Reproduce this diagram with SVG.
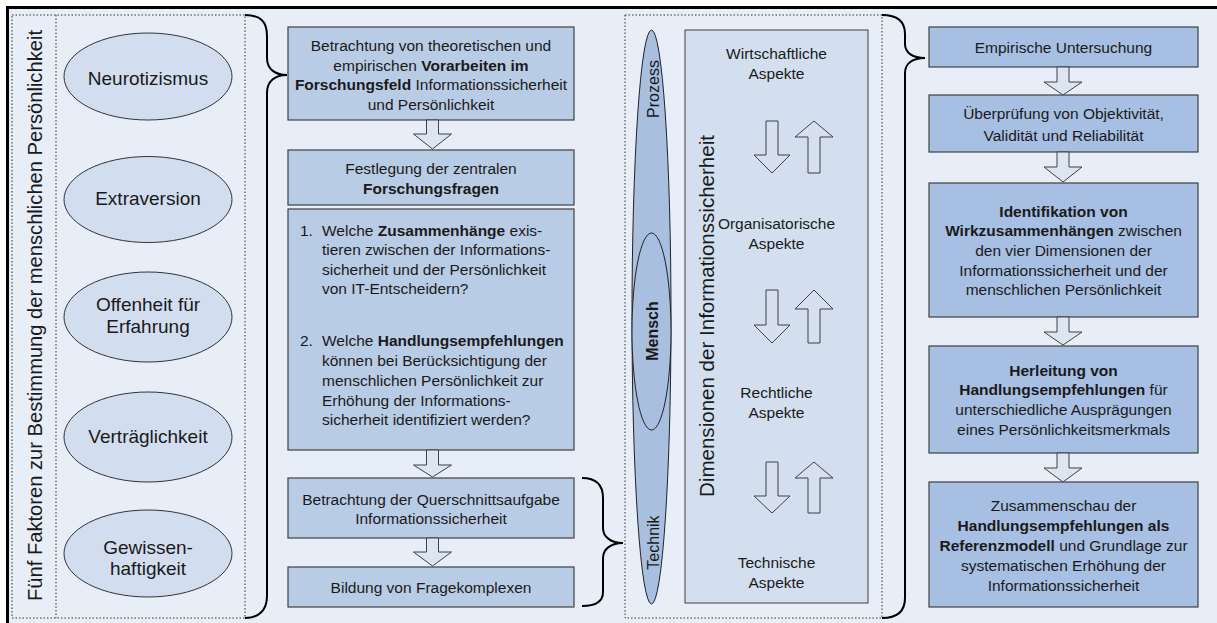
<svg xmlns="http://www.w3.org/2000/svg" width="1217" height="623" viewBox="0 0 1217 623">
<style>
text{font-family:"Liberation Sans",Arial,sans-serif;fill:#1a1a1a}
.bt{font-size:15.5px;text-anchor:middle}
.ls{font-size:15.5px}
.b{font-weight:bold}
.el{fill:#D2DDEF;stroke:#333;stroke-width:1}
.et{font-size:19px;text-anchor:middle}
.mb{fill:#B9CCE5;stroke:#404040;stroke-width:1.2}
.rb{fill:#A7BFE2;stroke:#404040;stroke-width:1.2}
.ar{fill:#DCE6F2;stroke:#404040;stroke-width:1}
.da{fill:#D6E0F0;stroke:#404040;stroke-width:1}
.dot{fill:none;stroke:#333;stroke-width:1;stroke-dasharray:1.5 2}
.br{fill:none;stroke:#000;stroke-width:2}
.at{font-size:15.5px;text-anchor:middle}
</style>
<rect x="7.5" y="7.5" width="1215" height="620" fill="#E7EEF8" stroke="#000" stroke-width="3"/>

<g id="left-panel">
<rect class="dot" x="12" y="15" width="233" height="603"/>
<line class="dot" x1="56" y1="15" x2="56" y2="618"/>
<text transform="translate(41.5,315.5) rotate(-90)" font-size="19.5" text-anchor="middle" textLength="571" lengthAdjust="spacingAndGlyphs">Fünf Faktoren zur Bestimmung der menschlichen Persönlichkeit</text>
</g>

<g id="neurotizismus">
<ellipse class="el" cx="148" cy="76.5" rx="84" ry="43.5"/>
<text class="et" x="148" y="84.5">Neurotizismus</text>
</g>
<g id="extraversion">
<ellipse class="el" cx="148" cy="199.5" rx="84" ry="43"/>
<text class="et" x="148" y="205">Extraversion</text>
</g>
<g id="offenheit">
<ellipse class="el" cx="148" cy="317" rx="84" ry="45"/>
<text class="et" x="148" y="311">Offenheit für</text>
<text class="et" x="148" y="333">Erfahrung</text>
</g>
<g id="vertraeglichkeit">
<ellipse class="el" cx="148" cy="437" rx="84" ry="45"/>
<text class="et" x="148" y="443">Verträglichkeit</text>
</g>
<g id="gewissenhaftigkeit">
<ellipse class="el" cx="148" cy="553.5" rx="84" ry="43.5"/>
<text class="et" x="148" y="554">Gewissen-</text>
<text class="et" x="148" y="575">haftigkeit</text>
</g>

<g id="braces">
<path class="br" d="M245,15 C261,15 267,22 267,36 L267,58 C267,69 275,75 287,75 C275,75 267,81 267,93 L267,596 C267,610 259,618 245,618"/>
<path class="br" d="M582,478 C597,478 603,485 603,498 L603,528 C603,537 611,543 623,543 C611,543 603,549 603,558 L603,592 C603,601 597,606 582,606"/>
<path class="br" d="M882,15 C898,15 905,22 905,34 L905,44 C905,53 913,58 925,58 C913,58 905,63 905,73 L905,598 C905,611 897,618 882,618"/>
</g>

<g id="m1">
<rect class="mb" x="288" y="27" width="286" height="93"/>
<text class="bt" x="431" y="51">Betrachtung von theoretischen und</text>
<text class="bt" x="431" y="70.5">empirischen <tspan class="b">Vorarbeiten im</tspan></text>
<text class="bt" x="431" y="90"><tspan class="b">Forschungsfeld</tspan> Informationssicherheit</text>
<text class="bt" x="431" y="109.5">und Persönlichkeit</text>
</g>
<g id="m2">
<rect class="mb" x="288" y="150" width="286" height="55"/>
<text class="bt" x="431" y="173.5">Festlegung der zentralen</text>
<text class="bt" x="431" y="193.5" font-weight="bold">Forschungsfragen</text>
</g>
<g id="m3">
<rect class="mb" x="288" y="209" width="286" height="241"/>
<text class="ls" x="300" y="235.5">1.</text>
<text class="ls" x="322" y="235.5">Welche <tspan class="b">Zusammenhänge</tspan> exis-</text>
<text class="ls" x="322" y="255">tieren zwischen der Informations-</text>
<text class="ls" x="322" y="274.5">sicherheit und der Persönlichkeit</text>
<text class="ls" x="322" y="294">von IT-Entscheidern?</text>
<text class="ls" x="300" y="345.5">2.</text>
<text class="ls" x="322" y="345.5">Welche <tspan class="b">Handlungsempfehlungen</tspan></text>
<text class="ls" x="322" y="365.5">können bei Berücksichtigung der</text>
<text class="ls" x="322" y="385.5">menschlichen Persönlichkeit zur</text>
<text class="ls" x="322" y="405.5">Erhöhung der Informations-</text>
<text class="ls" x="322" y="424.5">sicherheit identifiziert werden?</text>
</g>
<g id="m4">
<rect class="mb" x="288" y="478" width="286" height="60"/>
<text class="bt" x="431" y="504.5">Betrachtung der Querschnittsaufgabe</text>
<text class="bt" x="431" y="523.5">Informationssicherheit</text>
</g>
<g id="m5">
<rect class="mb" x="288" y="567" width="286" height="40"/>
<text class="bt" x="431" y="592.5">Bildung von Fragekomplexen</text>
</g>

<g id="middle-panel">
<rect class="dot" x="625" y="15" width="257" height="603"/>
</g>
<g id="pmt">
<ellipse cx="651.5" cy="317" rx="19.5" ry="287" fill="#A8BFE0" stroke="#222" stroke-width="1"/>
<ellipse cx="651.5" cy="331.5" rx="19.5" ry="98.5" fill="#A8BFE0" stroke="#222" stroke-width="1"/>
<text transform="translate(658.5,89) rotate(-90)" font-size="16" text-anchor="middle">Prozess</text>
<text transform="translate(658,331) rotate(-90)" font-size="16" font-weight="bold" text-anchor="middle">Mensch</text>
<text transform="translate(658.5,542.5) rotate(-90)" font-size="16" text-anchor="middle">Technik</text>
</g>
<g id="dimensionen">
<rect x="685" y="30" width="183" height="573" fill="#D3DFEF" stroke="#404040" stroke-width="1"/>
<text transform="translate(714,316) rotate(-90)" font-size="20" text-anchor="middle" textLength="362" lengthAdjust="spacingAndGlyphs">Dimensionen der Informationssicherheit</text>
<text class="at" x="776.5" y="58.5">Wirtschaftliche</text>
<text class="at" x="776.5" y="78.5">Aspekte</text>
<text class="at" x="776.5" y="228.5">Organisatorische</text>
<text class="at" x="776.5" y="248.5">Aspekte</text>
<text class="at" x="776.5" y="397.5">Rechtliche</text>
<text class="at" x="776.5" y="417.5">Aspekte</text>
<text class="at" x="776.5" y="567.5">Technische</text>
<text class="at" x="776.5" y="587.5">Aspekte</text>
<path class="da" d="M766,121 H778 V155 H790 L772,173 L754,155 H766 Z"/>
<path class="da" d="M808,173 H820 V137 H833 L814,121 L795,137 H808 Z"/>
<path class="da" d="M766,290 H778 V325 H790 L772,343 L754,325 H766 Z"/>
<path class="da" d="M808,343 H820 V309 H833 L814,290 L795,309 H808 Z"/>
<path class="da" d="M766,462 H778 V496 H790 L772,513 L754,496 H766 Z"/>
<path class="da" d="M808,513 H820 V478 H833 L814,462 L795,478 H808 Z"/>
</g>

<g id="r1">
<rect class="rb" x="929" y="27" width="269" height="40"/>
<text class="bt" x="1063.5" y="52.5">Empirische Untersuchung</text>
</g>
<g id="r2">
<rect class="rb" x="929" y="95" width="269" height="57"/>
<text class="bt" x="1063.5" y="118.5">Überprüfung von Objektivität,</text>
<text class="bt" x="1063.5" y="140.5">Validität und Reliabilität</text>
</g>
<g id="r3">
<rect class="rb" x="929" y="183" width="269" height="134"/>
<text class="bt b" x="1063.5" y="216.5">Identifikation von</text>
<text class="bt" x="1063.5" y="235.5"><tspan class="b">Wirkzusammenhängen</tspan> zwischen</text>
<text class="bt" x="1063.5" y="255.5">den vier Dimensionen der</text>
<text class="bt" x="1063.5" y="275.5">Informationssicherheit und der</text>
<text class="bt" x="1063.5" y="294.5">menschlichen Persönlichkeit</text>
</g>
<g id="r4">
<rect class="rb" x="929" y="346" width="269" height="107"/>
<text class="bt b" x="1063.5" y="375.5">Herleitung von</text>
<text class="bt" x="1063.5" y="394.5"><tspan class="b">Handlungsempfehlungen</tspan> für</text>
<text class="bt" x="1063.5" y="414.5">unterschiedliche Ausprägungen</text>
<text class="bt" x="1063.5" y="434.5">eines Persönlichkeitsmerkmals</text>
</g>
<g id="r5">
<rect class="rb" x="929" y="482" width="269" height="125"/>
<text class="bt" x="1063.5" y="510.5">Zusammenschau der</text>
<text class="bt b" x="1063.5" y="530.5">Handlungsempfehlungen als</text>
<text class="bt" x="1063.5" y="550.5"><tspan class="b">Referenzmodell</tspan> und Grundlage zur</text>
<text class="bt" x="1063.5" y="570.5">systematischen Erhöhung der</text>
<text class="bt" x="1063.5" y="590.5">Informationssicherheit</text>
</g>

<g id="connectors">
<path class="ar" d="M426.5,120 H438.5 V134 H451.5 L432.5,149 L413.5,134 H426.5 Z"/>
<path class="ar" d="M426.5,450 H438.5 V465 H451.5 L432.5,477 L413.5,465 H426.5 Z"/>
<path class="ar" d="M426.5,538 H438.5 V552 H451.5 L432.5,566 L413.5,552 H426.5 Z"/>
<path class="ar" d="M1057,67 H1069 V82 H1082 L1063,95 L1044,82 H1057 Z"/>
<path class="ar" d="M1057,152 H1069 V167 H1082 L1063,182 L1044,167 H1057 Z"/>
<path class="ar" d="M1057,317 H1069 V332 H1082 L1063,345 L1044,332 H1057 Z"/>
<path class="ar" d="M1057,453 H1069 V468 H1082 L1063,482 L1044,468 H1057 Z"/>
</g>
</svg>
